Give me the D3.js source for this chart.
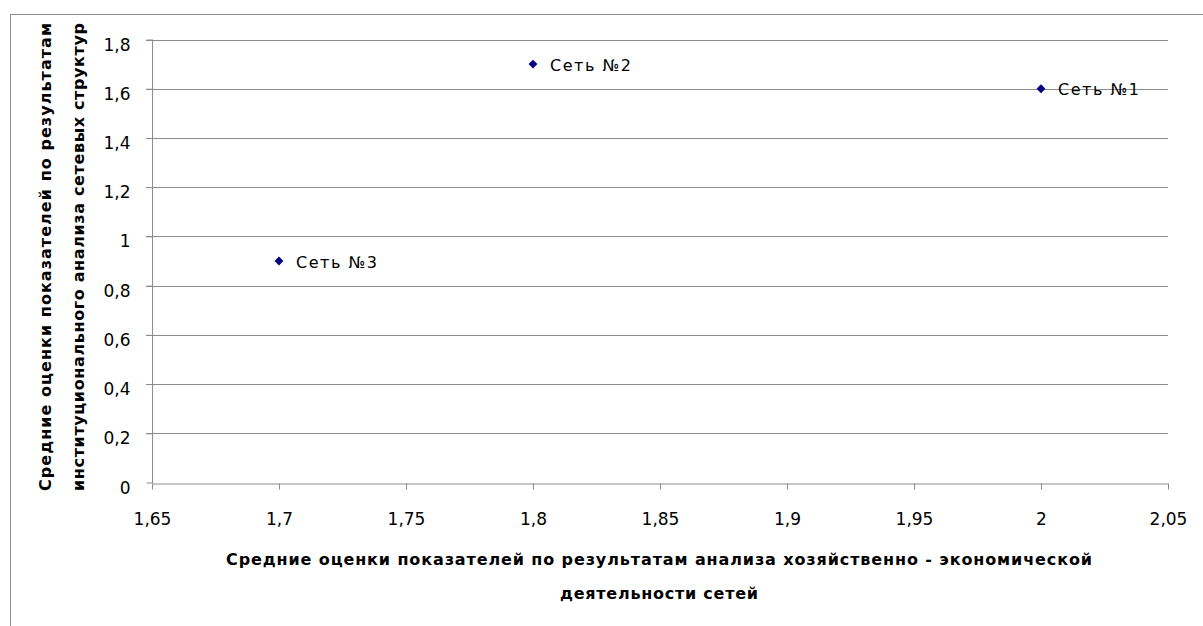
<!DOCTYPE html>
<html>
<head>
<meta charset="utf-8">
<script src="https://cdn.jsdelivr.net/npm/d3@7"></script>
<style>
  body { margin: 0; background: #fff; }
  svg { display: block; font-family: "DejaVu Sans", sans-serif; }
  .grid line { stroke: #8c8c8c; stroke-width: 1; }
  .axis path, .axis line { stroke: #8c8c8c; }
  .axis text { fill: #000; font-size: 17px; font-family: "DejaVu Sans", sans-serif; }
  .title { font-weight: bold; font-size: 16px; fill: #000; }
  .plabel { font-size: 16px; fill: #000; }
</style>
</head>
<body>
<svg id="canvas" width="1203" height="626"></svg>
<script>

// data
var seriesNames = ["Сеть №1", "Сеть №2", "Сеть №3"];
var xValues = [2, 1.8, 1.7];
var yValues = [1.6, 1.7, 0.9];

var xTicks = [1.65, 1.7, 1.75, 1.8, 1.85, 1.9, 1.95, 2, 2.05];
var yTicks = [0, 0.2, 0.4, 0.6, 0.8, 1, 1.2, 1.4, 1.6, 1.8];

var xTitle = ["Средние оценки показателей по результатам анализа хозяйственно - экономической",
              "деятельности сетей"];
var yTitle = ["Средние оценки показателей по результатам",
              "институционального анализа сетевых структур"];

var svg = d3.select("#canvas");

var plot = {left: 152, right: 1168, top: 39.5, bottom: 482.5};

var x = d3.scaleLinear().domain([1.65, 2.05]).range([plot.left, plot.right]);
var y = d3.scaleLinear().domain([0, 1.8]).range([plot.bottom, plot.top]);

function fmt(d) {
	return String(+d.toFixed(2)).replace(".", ",");
}

// outer chart border (only top and left visible)
svg.append("path")
	.attr("d", "M10.5,626 L10.5,14.5 L1203,14.5")
	.attr("fill", "none")
	.attr("stroke", "#8c8c8c");

// horizontal gridlines
svg.append("g")
	.attr("class", "grid")
	.selectAll("line")
	.data(yTicks.filter(function(d) { return d > 0; }))
	.enter().append("line")
	.attr("x1", plot.left - 6)
	.attr("x2", plot.right)
	.attr("y1", function(d) { return Math.round(y(d)) + 0.5; })
	.attr("y2", function(d) { return Math.round(y(d)) + 0.5; });

// y axis
var yAxis = svg.append("g")
	.attr("class", "axis")
	.attr("transform", "translate(" + (plot.left + 0.5) + ",0)")
	.call(d3.axisLeft(y).tickValues(yTicks).tickFormat(fmt).tickSize(6).tickSizeOuter(0).tickPadding(16));
yAxis.select(".domain").attr("d", "M0," + plot.top + "V" + (plot.bottom + 0.5));
yAxis.selectAll(".tick text").attr("dy", "0.62em");

// x axis
var xAxis = svg.append("g")
	.attr("class", "axis")
	.attr("transform", "translate(0," + (Math.round(plot.bottom) + 0.5) + ")")
	.call(d3.axisBottom(x).tickValues(xTicks).tickFormat(fmt).tickSize(6).tickSizeOuter(0).tickPadding(23));

// points
svg.append("g")
	.selectAll("path")
	.data(seriesNames)
	.enter().append("path")
	.attr("d", d3.symbol().type(d3.symbolDiamond2).size(50))
	.attr("transform", function(d, i) { return "translate(" + x(xValues[i]) + "," + y(yValues[i]) + ")"; })
	.attr("fill", "#000080");

// point labels
svg.append("g")
	.selectAll("text")
	.data(seriesNames)
	.enter().append("text")
	.attr("class", "plabel")
	.attr("x", function(d, i) { return x(xValues[i]) + 17; })
	.attr("y", function(d, i) { return y(yValues[i]) + 6.5; })
	.attr("textLength", 81)
	.attr("lengthAdjust", "spacing")
	.text(function(d) { return d; });

// x title
var xTitleWidths = [866, 198];
svg.append("g")
	.selectAll("text")
	.data(xTitle)
	.enter().append("text")
	.attr("class", "title")
	.attr("text-anchor", "middle")
	.attr("x", 659)
	.attr("y", function(d, i) { return 565 + i * 34; })
	.attr("textLength", function(d, i) { return xTitleWidths[i]; })
	.attr("lengthAdjust", "spacing")
	.text(function(d) { return d; });

// y title
svg.append("g")
	.selectAll("text")
	.data(yTitle)
	.enter().append("text")
	.attr("class", "title")
	.attr("text-anchor", "middle")
	.attr("transform", function(d, i) { return "translate(" + (51 + i * 33) + ",257) rotate(-90)"; })
	.attr("textLength", 468)
	.attr("lengthAdjust", "spacing")
	.text(function(d) { return d; });

</script>
</body>
</html>
